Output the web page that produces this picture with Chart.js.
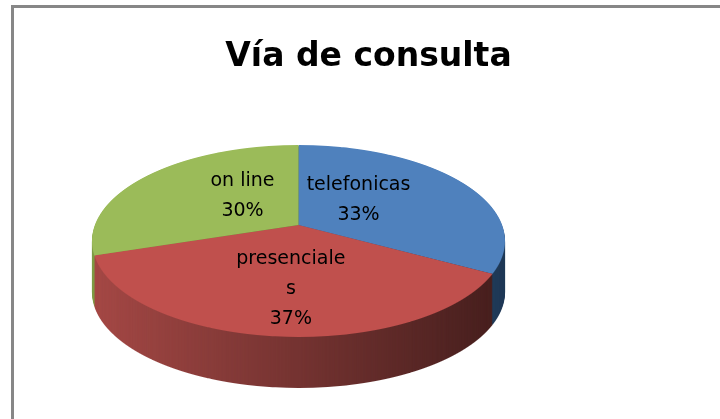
<!DOCTYPE html>
<html>
<head>
<meta charset="utf-8">
<script src="https://cdn.jsdelivr.net/npm/chart.js@4/dist/chart.umd.min.js"></script>
<style>
  html, body { margin: 0; padding: 0; background: #fff; }
  body { width: 720px; height: 419px; position: relative; overflow: hidden; }
  #frame { position: absolute; left: 11px; top: 5px; width: 760px; height: 460px;
           border-top: 3px solid #878787; border-left: 3px solid #878787; box-sizing: border-box; }
  #title { position: absolute; left: 0; top: 38px; width: 737px; text-align: center;
           font: bold 33px "DejaVu Sans", sans-serif; line-height: 33px; color: #000; }
  #wrap { position: absolute; left: 0; top: 0; width: 720px; height: 419px; }
</style>
</head>
<body>
<div id="frame"></div>
<div id="wrap"><canvas id="c" width="720" height="419"></canvas></div>
<div id="title">Vía de consulta</div>
<script>
// ---- data ----
const categories = ['telefonicas', 'presenciales', 'on line'];
const values = [33, 37, 30];
const topColors = ['#4f81bd', '#c0504d', '#9bbb59'];
const sideColors = ['#4a86cc', '#a44845', '#7f9c45'];

const total = values.reduce((a, b) => a + b, 0);

// perspective projection of the (circular) pie drawn by Chart.js, row by row
function drawPerspective(ctx, arcs, p, W, colors) {
  const cx = arcs[0].x, cy = arcs[0].y, R = arcs[0].outerRadius;
  const A = p.A, B = p.B, S = p.S;
  const g = v => cy + A * v / (1 + B * v);
  const yTop = Math.floor(g(-1)), yBot = Math.ceil(g(1));
  for (let j = yTop; j < yBot; j++) {
    const ym = j + 0.5;
    const w = (ym - cy) / A;
    let v = w / (1 - B * w);
    v = Math.max(-1, Math.min(1, v));
    const den = 1 + B * v;
    const sx = S / R / den;
    const gp = A / (den * den);
    ctx.save();
    ctx.setTransform(1, 0, 0, 1, 0, 0);
    ctx.beginPath();
    ctx.rect(0, j, W, 1);
    ctx.clip();
    ctx.setTransform(sx, 0, 0, gp / R, cx - sx * cx, ym - gp * (cy / R + v));
    arcs.forEach((arc, i) => {
      if (colors) {
        const proxy = Object.create(arc);
        proxy.options = Object.assign({}, arc.options, { backgroundColor: colors[i], borderWidth: 0 });
        Chart.ArcElement.prototype.draw.call(proxy, ctx);
      } else {
        arc.draw(ctx);
      }
    });
    ctx.restore();
  }
}

function project(arc, p, u, v) {
  const den = 1 + p.B * v;
  return { x: arc.x + p.S * u / den, y: arc.y + p.A * v / den };
}

const pie3d = {
  id: 'pie3d',
  beforeDatasetsDraw(chart, args, opts) {
    const arcs = chart.getDatasetMeta(0).data;
    if (!arcs.length) return;
    const ctx = chart.ctx;
    const W = chart.width, H = chart.height;
    // side wall: projected disk in side colours, shaded left->right, stacked downward
    const off = document.createElement('canvas');
    off.width = W; off.height = H;
    const octx = off.getContext('2d');
    drawPerspective(octx, arcs, opts, W, sideColors);
    const cx = arcs[0].x;
    const grad = octx.createLinearGradient(cx - opts.S, 0, cx + opts.S, 0);
    grad.addColorStop(0, 'rgba(0,0,0,0)');
    grad.addColorStop(1, 'rgba(0,0,0,0.58)');
    octx.globalCompositeOperation = 'source-atop';
    octx.fillStyle = grad;
    octx.fillRect(0, 0, W, H);
    for (let d = opts.depth; d >= 1; d--) ctx.drawImage(off, 0, d);
    // top surface
    drawPerspective(ctx, arcs, opts, W, null);
    return false;
  },
  afterDraw(chart, args, opts) {
    const ctx = chart.ctx;
    const arcs = chart.getDatasetMeta(0).data;
    ctx.save();
    ctx.font = opts.font;
    ctx.fillStyle = '#000';
    ctx.textAlign = 'center';
    ctx.textBaseline = 'alphabetic';
    arcs.forEach((arc, i) => {
      const a = (arc.startAngle + arc.endAngle) / 2;
      const pt = project(arc, opts, Math.cos(a) * opts.labelFrac[0], Math.sin(a) * opts.labelFrac[1]);
      const lines = wrap(ctx, categories[i], opts.wrapWidth);
      lines.push(Math.round(values[i] / total * 100) + '%');
      const lh = opts.lineHeight;
      const y0 = pt.y - (lines.length - 1) * lh / 2 + 7;
      lines.forEach((t, j) => ctx.fillText(t, pt.x, y0 + j * lh));
    });
    ctx.restore();
  }
};

function wrap(ctx, text, maxW) {
  const out = [];
  let line = '';
  text.split(' ').forEach(w => {
    const cand = line ? line + ' ' + w : w;
    if (ctx.measureText(cand).width <= maxW) { line = cand; return; }
    if (line) { out.push(line); line = ''; }
    for (const ch of w) {
      if (line && ctx.measureText(line + ch).width > maxW) { out.push(line); line = ch; }
      else line += ch;
    }
  });
  if (line) out.push(line);
  return out;
}

new Chart(document.getElementById('c'), {
  type: 'pie',
  data: {
    labels: categories,
    datasets: [{ data: values, backgroundColor: topColors, borderWidth: 0, hoverOffset: 0 }]
  },
  options: {
    responsive: false,
    animation: false,
    events: [],
    radius: 206.5,
    layout: { padding: { top: 31, right: 123, left: 0, bottom: 0 } },
    plugins: {
      legend: { display: false },
      title: { display: false },
      tooltip: { enabled: false },
      pie3d: {
        S: 203.6,      // horizontal radius of the projected disk
        A: 93.3,       // vertical perspective amplitude
        B: -1 / 6,     // perspective strength (front nearer)
        depth: 51,
        font: '19px "DejaVu Sans", sans-serif',
        lineHeight: 30,
        wrapWidth: 115,
        labelFrac: [0.36, 0.6]
      }
    }
  },
  plugins: [pie3d]
});
</script>
</body>
</html>
